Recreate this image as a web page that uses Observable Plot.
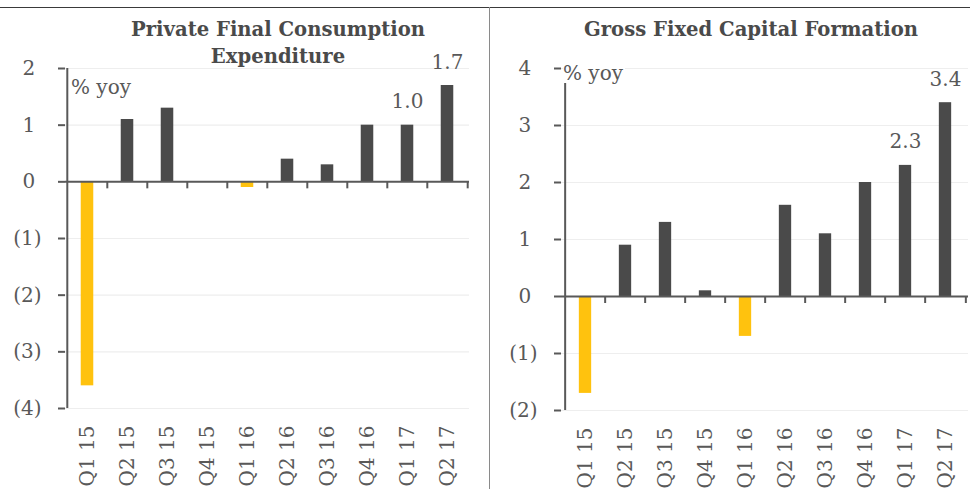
<!DOCTYPE html>
<html>
<head>
<meta charset="utf-8">
<script src="https://cdn.jsdelivr.net/npm/d3@7"></script>
<script src="https://cdn.jsdelivr.net/npm/@observablehq/plot@0.6"></script>
<style>
  body { margin: 0; background: #fff; }
  #chart { position: relative; width: 970px; height: 489px; overflow: hidden;
           font-family: "DejaVu Serif", serif; color: #595959; }
  .panel { position: absolute; top: 0; }
  .title { position: absolute; top: 16px; width: 420px; text-align: center;
           font-weight: bold; font-size: 19.6px; line-height: 27px; color: #4a4a4a; }
  .unit { position: absolute; font-size: 20px; line-height: 20px; background: #fff; padding-right: 2px; }
  .topline { position: absolute; left: 0; top: 7px; width: 970px; height: 1px; background: #3a3a3a; }
  .divider { position: absolute; left: 489px; top: 7px; width: 1px; height: 482px; background: #8a8a8a; }
  #chart svg g[aria-label="y-axis tick"] path,
  #chart svg g[aria-label="y-axis"] path { stroke-width: 2; stroke: #595959; }
</style>
</head>
<body>
<div id="chart">
  <div class="panel" id="left"></div>
  <div class="panel" id="right" style="left:489px"></div>
  <div class="topline"></div>
  <div class="divider"></div>
  <div class="title" style="left:68px">Private Final Consumption<br>Expenditure</div>
  <div class="title" style="left:541px">Gross Fixed Capital Formation</div>
  <div class="unit" style="left:71px; top:77px">% yoy</div>
  <div class="unit" style="left:563px; top:63px">% yoy</div>
</div>
<script>
// Quarterly real growth, % year on year
const quarters = ["Q1 15", "Q2 15", "Q3 15", "Q4 15", "Q1 16", "Q2 16", "Q3 16", "Q4 16", "Q1 17", "Q2 17"];
const pfce = [-3.6, 1.1, 1.3, 0.0, -0.1, 0.4, 0.3, 1.0, 1.0, 1.7];
const gfcf = [-1.7, 0.9, 1.3, 0.1, -0.7, 1.6, 1.1, 2.0, 2.3, 3.4];
const pfceTicks = [-4, -3, -2, -1, 0, 1, 2];
const gfcfTicks = [-2, -1, 0, 1, 2, 3, 4];
const labelled = ["Q1 17", "Q2 17"];

const DARK = "#4a4a4a";
const YELLOW = "#FFC20E";
const AXIS = "#595959";
const GRID = "#eeeeee";

// accounting-style negatives: (1), (2) ... ; positives keep room for the closing paren
const fmt = (d) => d < 0 ? `(${-d})` : `${d}\u00A0`;

function growthPanel({values, ticks, width, marginLeft, marginRight, marginBottom}) {
  const rows = quarters.map((q, i) => ({q, v: values[i]}));
  const step = (width - marginLeft - marginRight) / quarters.length;
  const inset = step * 0.34;
  return Plot.plot({
    width,
    height: 489,
    marginTop: 68,
    marginLeft,
    marginRight,
    marginBottom,
    style: {fontFamily: "DejaVu Serif, serif", fontSize: "20px", color: AXIS, background: "transparent"},
    x: {domain: quarters, padding: 0, label: null, tickRotate: -90, tickSize: 0, tickPadding: 17},
    y: {domain: [ticks[0], ticks[ticks.length - 1]], ticks, tickFormat: fmt, tickSize: 7, tickPadding: 17, label: null},
    marks: [
      Plot.ruleY(ticks.filter((t) => t !== 0), {stroke: GRID, strokeWidth: 1.2}),
      Plot.barY(rows, {filter: (d) => d.v < 0, x: "q", y: "v", fill: YELLOW, insetLeft: inset, insetRight: inset}),
      Plot.barY(rows, {filter: (d) => d.v >= 0, x: "q", y: "v", fill: DARK, insetLeft: inset, insetRight: inset}),
      // category dividers hang below the zero line
      Plot.ruleX(quarters.slice(1), {x: (d) => d, y1: 0, y2: 0, insetBottom: -7, dx: -step / 2, stroke: AXIS, strokeWidth: 2}),
      Plot.ruleX(quarters.slice(-1), {x: (d) => d, y1: 0, y2: 0, insetBottom: -7, dx: step / 2, stroke: AXIS, strokeWidth: 2}),
      Plot.ruleY([0], {stroke: AXIS, strokeWidth: 2}),
      // value axis line
      Plot.ruleX(quarters.slice(0, 1), {x: (d) => d, y1: ticks[0], y2: ticks[ticks.length - 1], dx: -step / 2, stroke: AXIS, strokeWidth: 2}),
      Plot.text(rows.filter((d) => labelled.includes(d.q)), {
        x: "q", y: "v", text: (d) => d.v.toFixed(1), dy: -17, lineAnchor: "bottom",
        fill: AXIS, fontSize: 20
      })
    ]
  });
}

document.getElementById("left").append(growthPanel({
  values: pfce, ticks: pfceTicks, width: 489, marginLeft: 65, marginRight: 20, marginBottom: 81
}));
document.getElementById("right").append(growthPanel({
  values: gfcf, ticks: gfcfTicks, width: 481, marginLeft: 72, marginRight: 2, marginBottom: 79
}));
</script>
</body>
</html>
